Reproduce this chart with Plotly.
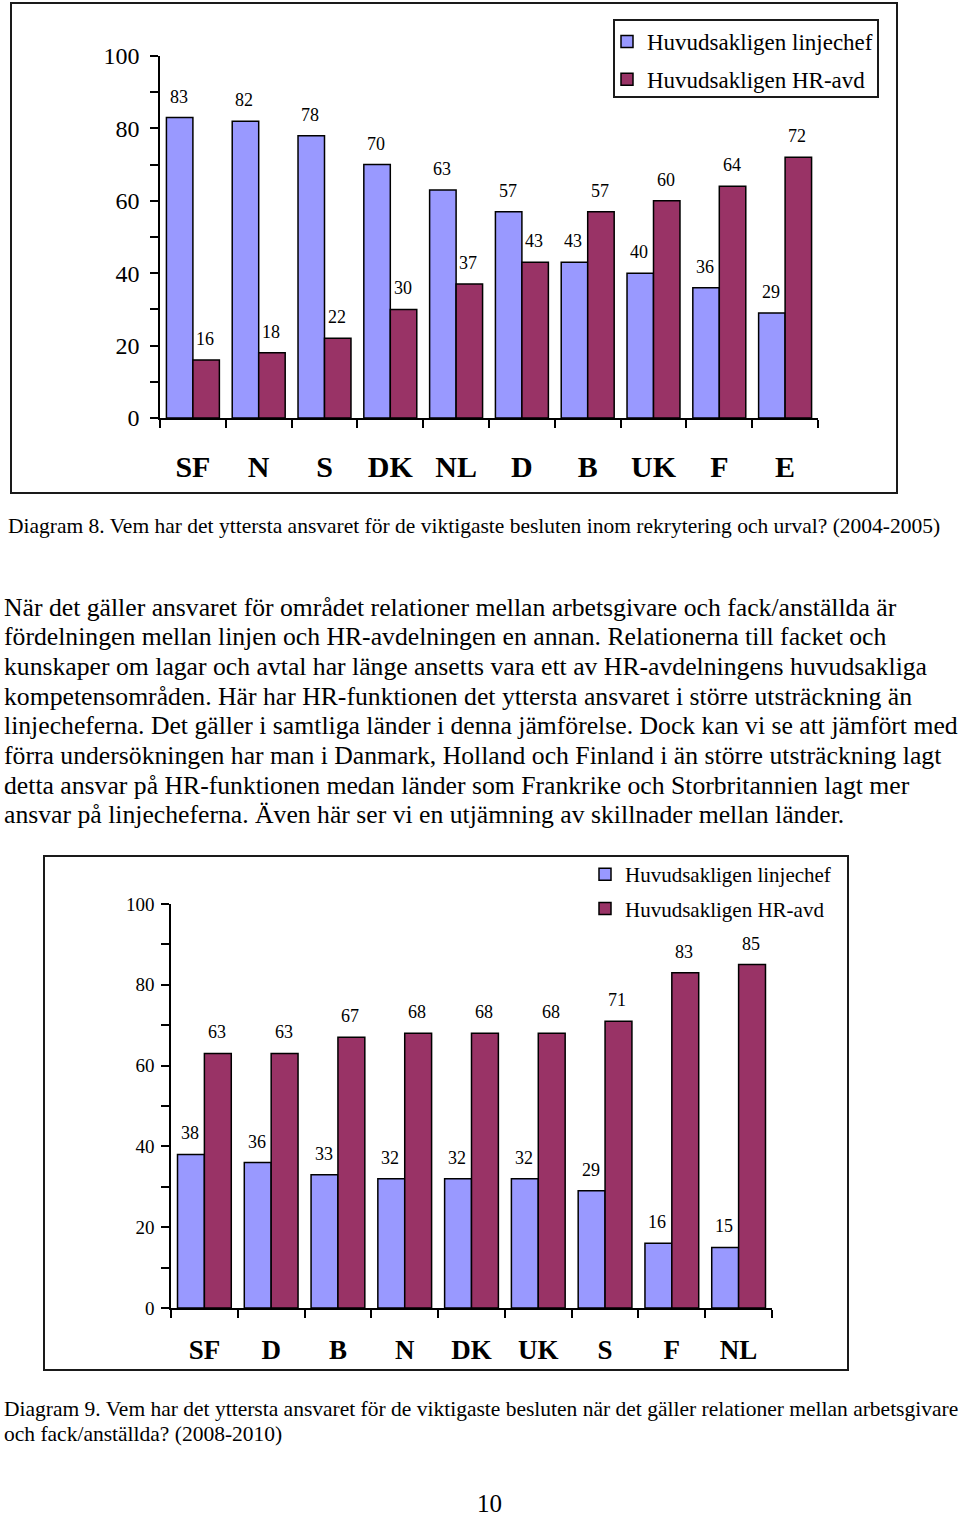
import plotly.graph_objects as go

W, H = 960, 1516

# ---------------- data ----------------
cats1 = ["SF", "N", "S", "DK", "NL", "D", "B", "UK", "F", "E"]
linje1 = [83, 82, 78, 70, 63, 57, 43, 40, 36, 29]
hr1 = [16, 18, 22, 30, 37, 43, 57, 60, 64, 72]

cats2 = ["SF", "D", "B", "N", "DK", "UK", "S", "F", "NL"]
linje2 = [38, 36, 33, 32, 32, 32, 29, 16, 15]
hr2 = [63, 63, 67, 68, 68, 68, 71, 83, 85]

series_names = ["Huvudsakligen linjechef", "Huvudsakligen HR-avd"]
yticks = [0, 20, 40, 60, 80, 100]

caption1 = ("Diagram 8. Vem har det yttersta ansvaret för de viktigaste besluten inom "
            "rekrytering och urval? (2004-2005)")
paragraph = [
    "När det gäller ansvaret för området relationer mellan arbetsgivare och fack/anställda är",
    "fördelningen mellan linjen och HR-avdelningen en annan. Relationerna till facket och",
    "kunskaper om lagar och avtal har länge ansetts vara ett av HR-avdelningens huvudsakliga",
    "kompetensområden. Här har HR-funktionen det yttersta ansvaret i större utsträckning än",
    "linjecheferna. Det gäller i samtliga länder i denna jämförelse. Dock kan vi se att jämfört med",
    "förra undersökningen har man i Danmark, Holland och Finland i än större utsträckning lagt",
    "detta ansvar på HR-funktionen medan länder som Frankrike och Storbritannien lagt mer",
    "ansvar på linjecheferna. Även här ser vi en utjämning av skillnader mellan länder.",
]
caption2 = [
    "Diagram 9. Vem har det yttersta ansvaret för de viktigaste besluten när det gäller "
    "relationer mellan arbetsgivare",
    "och fack/anställda? (2008-2010)",
]
page_no = "10"

# ---------------- style ----------------
BLUE = "#9999FF"
RED = "#993366"
SERIF = "Liberation Serif"
BARGAP = 0.195


def px(x):
    return x / W


def py(y):
    return 1 - y / H


fig = go.Figure()

# chart 1
fig.add_bar(x=cats1, y=linje1, name=series_names[0], xaxis="x", yaxis="y",
            marker=dict(color=BLUE, line=dict(color="black", width=1.5)),
            legend="legend", legendgroup="a1")
fig.add_bar(x=cats1, y=hr1, name=series_names[1], xaxis="x", yaxis="y",
            marker=dict(color=RED, line=dict(color="black", width=1.5)),
            legend="legend", legendgroup="b1")
# chart 2
fig.add_bar(x=cats2, y=linje2, name=series_names[0], xaxis="x2", yaxis="y2",
            marker=dict(color=BLUE, line=dict(color="black", width=1.5)),
            legend="legend2", legendgroup="a2")
fig.add_bar(x=cats2, y=hr2, name=series_names[1], xaxis="x2", yaxis="y2",
            marker=dict(color=RED, line=dict(color="black", width=1.5)),
            legend="legend2", legendgroup="b2")

# axis pixel geometry
ax1 = dict(x0=160, x1=818, y0=418, y1=56)
ax2 = dict(x0=171, x1=772, y0=1308, y1=904)

annotations = []


def value_labels(cats, vals_a, vals_b, xref, yref, geom, size):
    catw = (geom["x1"] - geom["x0"]) / len(cats)
    half = catw * (1 - BARGAP) / 4
    for c, va, vb in zip(cats, vals_a, vals_b):
        for v, sh in ((va, -half), (vb, half)):
            annotations.append(dict(
                x=c, y=v, xref=xref, yref=yref, text=str(v), showarrow=False,
                xshift=sh - 1, yshift=21, yanchor="middle",
                font=dict(family=SERIF, size=size, color="black")))


value_labels(cats1, linje1, hr1, "x", "y", ax1, 18)
value_labels(cats2, linje2, hr2, "x2", "y2", ax2, 18)

# text blocks
annotations.append(dict(x=px(6), y=py(526), xref="paper", yref="paper", text=caption1,
                        showarrow=False, xanchor="left", yanchor="middle",
                        font=dict(family=SERIF, size=21.5, color="black")))
for i, line in enumerate(paragraph):
    annotations.append(dict(x=px(2), y=py(607 + i * 29.7), xref="paper", yref="paper",
                            text=line, showarrow=False, xanchor="left", yanchor="middle",
                            font=dict(family=SERIF, size=25.7, color="black")))
for i, line in enumerate(caption2):
    annotations.append(dict(x=px(2), y=py(1409 + i * 25), xref="paper", yref="paper",
                            text=line, showarrow=False, xanchor="left", yanchor="middle",
                            font=dict(family=SERIF, size=21.5, color="black")))
annotations.append(dict(x=px(490), y=py(1503), xref="paper", yref="paper", text=page_no,
                        showarrow=False, xanchor="center", yanchor="middle",
                        font=dict(family=SERIF, size=25, color="black")))


def xaxis_cfg(geom, n, size, standoff):
    return dict(domain=[px(geom["x0"]), px(geom["x1"])], range=[-0.5, n - 0.5],
                showline=True, linecolor="black", linewidth=1.5,
                ticks="outside", tickson="boundaries", ticklen=8, tickwidth=1.5,
                tickcolor="black", showgrid=False, zeroline=False, fixedrange=True,
                ticklabelstandoff=standoff, automargin=False,
                tickfont=dict(family=SERIF, size=size, color="black", weight="bold"))


def yaxis_cfg(geom, size, standoff, anchor):
    return dict(domain=[py(geom["y0"]), py(geom["y1"])], range=[0, 100],
                tickvals=yticks, showline=True, linecolor="black", linewidth=1.5,
                ticks="outside", ticklen=8, tickwidth=1.5, tickcolor="black",
                minor=dict(dtick=10, ticks="outside", ticklen=8, tickwidth=1.5,
                           tickcolor="black", showgrid=False),
                showgrid=False, zeroline=False, fixedrange=True, anchor=anchor,
                ticklabelstandoff=standoff, automargin=False,
                tickfont=dict(family=SERIF, size=size, color="black"))


fig.update_layout(
    width=W, height=H,
    margin=dict(l=0, r=0, t=0, b=0, pad=0, autoexpand=False),
    paper_bgcolor="white", plot_bgcolor="white",
    barmode="group", bargap=BARGAP, bargroupgap=0,
    xaxis=xaxis_cfg(ax1, len(cats1), 30, 21) | dict(anchor="y"),
    yaxis=yaxis_cfg(ax1, 24, 6, "x"),
    xaxis2=xaxis_cfg(ax2, len(cats2), 27, 17) | dict(anchor="y2"),
    yaxis2=yaxis_cfg(ax2, 19, 3, "x2"),
    legend=dict(x=px(607), y=py(20), xanchor="left", yanchor="top",
                borderwidth=0, bgcolor="rgba(0,0,0,0)",
                font=dict(family=SERIF, size=23, color="black"),
                traceorder="grouped", tracegroupgap=5, itemwidth=30),
    legend2=dict(x=px(585), y=py(854), xanchor="left", yanchor="top",
                 borderwidth=0, bgcolor="rgba(0,0,0,0)",
                 font=dict(family=SERIF, size=21, color="black"),
                 traceorder="grouped", tracegroupgap=4, itemwidth=30),
    annotations=annotations,
    shapes=[
        dict(type="rect", xref="paper", yref="paper", x0=px(11), x1=px(897),
             y0=py(3), y1=py(493), line=dict(color="#1a1a1a", width=2)),
        dict(type="rect", xref="paper", yref="paper", x0=px(614), x1=px(878),
             y0=py(20), y1=py(97), line=dict(color="#1a1a1a", width=2)),
        dict(type="rect", xref="paper", yref="paper", x0=px(44), x1=px(848),
             y0=py(856), y1=py(1370), line=dict(color="#1a1a1a", width=2)),
    ],
    showlegend=True,
)

fig.write_html("out.html")
